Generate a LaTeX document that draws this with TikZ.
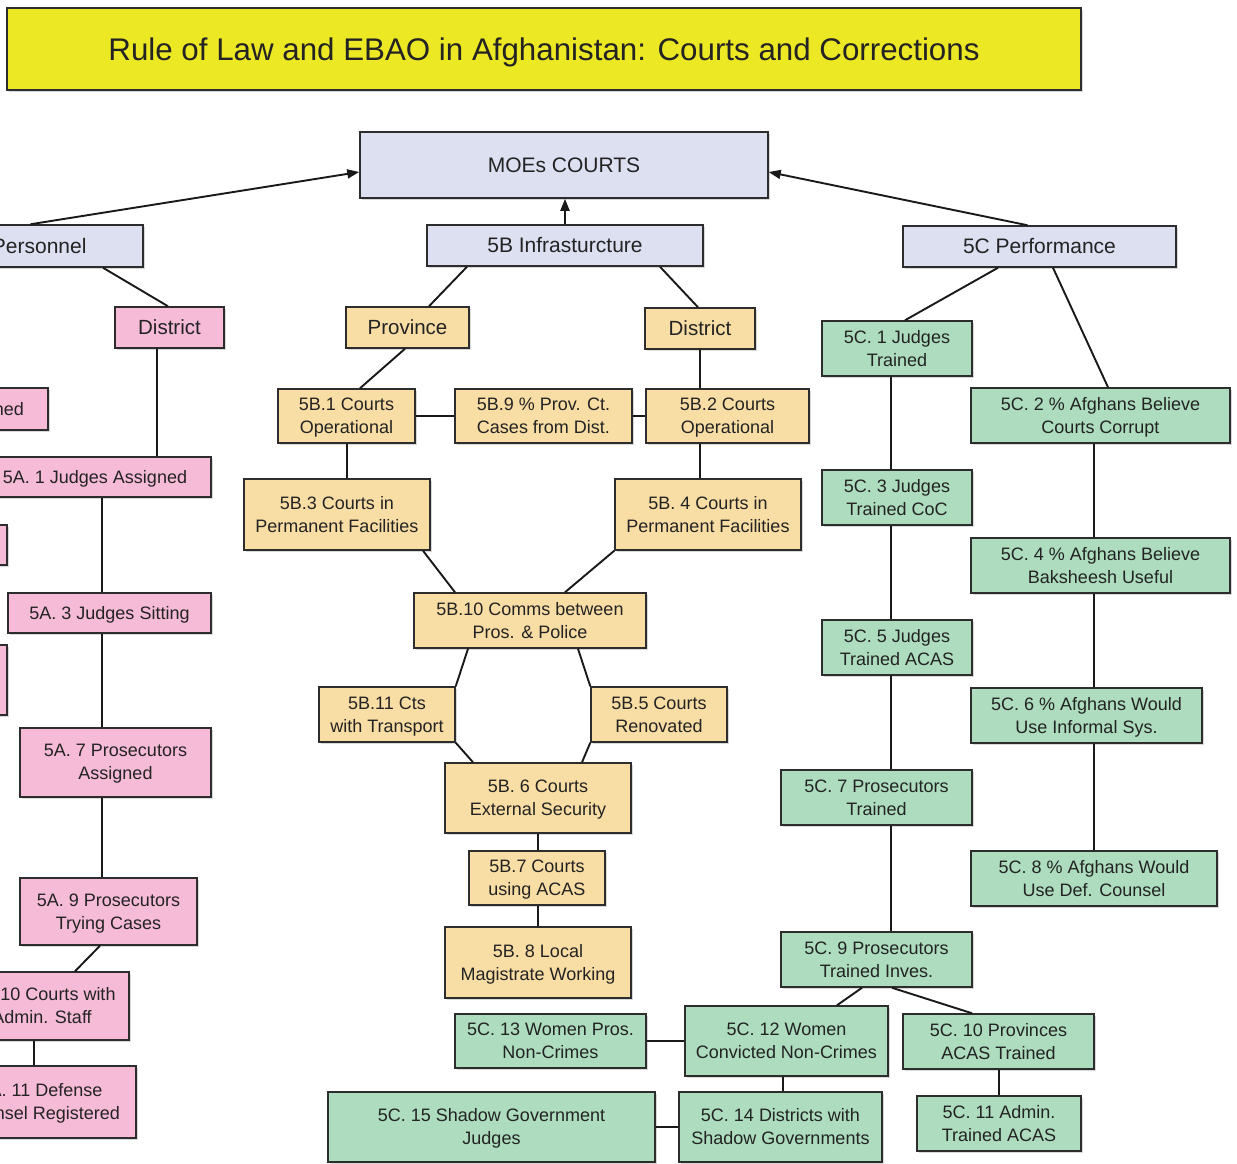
\documentclass[tikz,border=0pt]{standalone}
\usepackage{fontspec}
\setmainfont{Liberation Sans}
\usetikzlibrary{arrows.meta,shadows}
\definecolor{pkfill}{RGB}{246,187,214}
\definecolor{ylfill}{RGB}{248,221,164}
\definecolor{grfill}{RGB}{173,220,191}
\definecolor{lvfill}{RGB}{220,224,241}
\definecolor{ttfill}{RGB}{237,232,36}
\definecolor{txt}{RGB}{35,35,35}
\definecolor{edge}{RGB}{45,45,45}
\begin{document}
\begin{tikzpicture}[x=1pt,y=-1pt,
  box/.style={draw=edge, line width=1.5pt, inner sep=0pt, align=center, text=txt,
    text depth=0.5pt,
    font=\fontsize{18}{23}\selectfont,
    drop shadow={shadow xshift=1.8pt,shadow yshift=-1.8pt,opacity=0.3}},
  sz/.style 2 args={minimum width=#1pt, minimum height=#2pt},
  pk/.style={box, fill=pkfill},
  yl/.style={box, fill=ylfill},
  gr/.style={box, fill=grfill},
  lv/.style={box, fill=lvfill, font=\fontsize{21}{25}\selectfont},
  big/.style={font=\fontsize{20.5}{25}\selectfont},
  ttl/.style={box, fill=ttfill, font=\fontsize{31.3}{36}\selectfont},
  ln/.style={draw=black!90, line width=1.9pt},
  ar/.style={ln, -{Triangle[length=12pt,width=9pt]}}
]
\useasboundingbox (0,0) rectangle (1237,1163);
\fill[white] (0,0) rectangle (1237,1163);
\clip (0,0) rectangle (1237,1163);

% title
\node[ttl, sz={1074}{82}] (title) at (544,49) {Rule of Law and EBAO in Afghanistan: Courts and Corrections};

% top level
\node[lv, sz={408}{66}] (moe) at (564,165) {MOEs COURTS};
\node[lv, sz={239}{42}] (per) at (23.5,246) {5A Personnel};
\node[lv, sz={276}{41}] (infra) at (565,245.5) {5B Infrasturcture};
\node[lv, sz={273}{41}] (perf) at (1039.5,246.5) {5C Performance};

% 5A column (pink)
\node[pk, big, sz={109}{41}] (dP) at (169.5,327.5) {District};
\node[pk, sz={198}{42}, text width=150pt, inner xsep=24pt, align=right] (pned) at (-51,409) {ned};
\node[pk, sz={232}{40}] (a1) at (95,477) {5A. 1 Judges Assigned};
\node[pk, sz={107}{40}] (pb2) at (-46.5,545) {};
\node[pk, sz={203}{40}] (a3) at (109.5,613) {5A. 3 Judges Sitting};
\node[pk, sz={107}{70}] (pb3) at (-46.5,680) {};
\node[pk, sz={191}{69}] (a7) at (115.5,762.5) {5A. 7 Prosecutors\\Assigned};
\node[pk, sz={177}{67}] (a9) at (108.5,911.5) {5A. 9 Prosecutors\\Trying Cases};
\node[pk, sz={174}{68}] (a10) at (42,1006) {5A. 10 Courts with\\Admin. Staff};
\node[pk, sz={190}{72}] (a11) at (41,1102) {5A. 11 Defense\\Counsel Registered};

% 5B column (yellow)
\node[yl, big, sz={123}{41}] (prov) at (407.5,327.5) {Province};
\node[yl, big, sz={110}{41}] (dY) at (700,328.5) {District};
\node[yl, sz={137}{54}] (b1) at (346.5,416) {5B.1 Courts\\Operational};
\node[yl, sz={177}{54}] (b9) at (543.5,416) {5B.9 \% Prov. Ct.\\Cases from Dist.};
\node[yl, sz={163}{54}] (b2) at (727.5,416) {5B.2 Courts\\Operational};
\node[yl, sz={186}{71}] (b3) at (337,514.5) {5B.3 Courts in\\Permanent Facilities};
\node[yl, sz={186}{71}] (b4) at (708,514.5) {5B. 4 Courts in\\Permanent Facilities};
\node[yl, sz={232}{55}] (b10) at (530,620.5) {5B.10 Comms between\\Pros. \& Police};
\node[yl, sz={136}{55}] (b11) at (387,714.5) {5B.11 Cts\\with Transport};
\node[yl, sz={136}{55}] (b5) at (659,714.5) {5B.5 Courts\\Renovated};
\node[yl, sz={186}{70}] (b6) at (538,798) {5B. 6 Courts\\External Security};
\node[yl, sz={136}{54}] (b7) at (537,878) {5B.7 Courts\\using ACAS};
\node[yl, sz={186}{71}] (b8) at (538,962.5) {5B. 8 Local\\Magistrate Working};

% 5C column (green)
\node[gr, sz={150}{55}] (c1) at (897,348.5) {5C. 1 Judges\\Trained};
\node[gr, sz={259}{55}] (c2) at (1100.5,415.5) {5C. 2 \% Afghans Believe\\Courts Corrupt};
\node[gr, sz={150}{55}] (c3) at (897,497.5) {5C. 3 Judges\\Trained CoC};
\node[gr, sz={259}{55}] (c4) at (1100.5,565.5) {5C. 4 \% Afghans Believe\\Baksheesh Useful};
\node[gr, sz={150}{55}] (c5) at (897,647.5) {5C. 5 Judges\\Trained ACAS};
\node[gr, sz={231}{55}] (c6) at (1086.5,715.5) {5C. 6 \% Afghans Would\\Use Informal Sys.};
\node[gr, sz={191}{55}] (c7) at (876.5,797.5) {5C. 7 Prosecutors\\Trained};
\node[gr, sz={246}{55}] (c8) at (1094,878.5) {5C. 8 \% Afghans Would\\Use Def. Counsel};
\node[gr, sz={191}{55}] (c9) at (876.5,959.5) {5C. 9 Prosecutors\\Trained Inves.};
\node[gr, sz={191}{55}] (c10) at (998.5,1041.5) {5C. 10 Provinces\\ACAS Trained};
\node[gr, sz={164}{55}] (c11) at (999,1123.5) {5C. 11 Admin.\\Trained ACAS};
\node[gr, sz={203}{70}] (c12) at (786.5,1041) {5C. 12 Women\\Convicted Non-Crimes};
\node[gr, sz={191}{54}] (c13) at (550.5,1041) {5C. 13 Women Pros.\\Non-Crimes};
\node[gr, sz={203}{70}] (c14) at (780.5,1127) {5C. 14 Districts with\\Shadow Governments};
\node[gr, sz={327}{70}] (c15) at (491.5,1127) {5C. 15 Shadow Government\\Judges};

% arrows to MOEs
\draw[ar] ([xshift=7pt]per.north) -- ([yshift=-7pt]moe.west);
\draw[ar] ([xshift=-12pt]perf.north) -- ([yshift=-7pt]moe.east);
\draw[ar] (infra.north) -- (infra.north |- moe.south);

% 5A connectors
\draw[ln] ([xshift=79.5pt]per.south) -- ([xshift=-1.5pt]dP.north);
\draw[ln] ([xshift=-12.5pt]dP.south) -- ([xshift=-12.5pt]dP.south |- a1.north);
\draw[ln] ([xshift=7pt]a1.south) -- ([xshift=7pt]a1.south |- a3.north);
\draw[ln] ([xshift=-7.5pt]a3.south) -- ([xshift=-7.5pt]a3.south |- a7.north);
\draw[ln] ([xshift=-13.5pt]a7.south) -- ([xshift=-13.5pt]a7.south |- a9.north);
\draw[ln] ([xshift=-8.5pt]a9.south) -- ([xshift=33pt]a10.north);
\draw[ln] ([xshift=-8pt]a10.south) -- ([xshift=-8pt]a10.south |- a11.north);

% 5B connectors
\draw[ln] ([xshift=-98pt]infra.south) -- ([xshift=21.5pt]prov.north);
\draw[ln] ([xshift=95pt]infra.south) -- ([xshift=-2pt]dY.north);
\draw[ln] ([xshift=-2.5pt]prov.south) -- ([xshift=13.5pt]b1.north);
\draw[ln] (dY.south) -- (dY.south |- b2.north);
\draw[ln] (b1.east) -- (b9.west);
\draw[ln] (b9.east) -- (b2.west);
\draw[ln] ([xshift=0.5pt]b1.south) -- ([xshift=0.5pt]b1.south |- b3.north);
\draw[ln] ([xshift=-27.5pt]b2.south) -- ([xshift=-27.5pt]b2.south |- b4.north);
\draw[ln] ([xshift=86pt]b3.south) -- ([xshift=-75pt]b10.north);
\draw[ln] (b4.south west) -- ([xshift=35pt]b10.north);
\draw[ln] ([xshift=-62pt]b10.south) -- (b11.north east);
\draw[ln] (b11.south east) -- ([xshift=-65pt]b6.north);
\draw[ln] ([xshift=48pt]b10.south) -- (b5.north west);
\draw[ln] (b5.south west) -- ([xshift=44pt]b6.north);
\draw[ln] (b6.south) -- (b6.south |- b7.north);
\draw[ln] ([xshift=1pt]b7.south) -- ([xshift=1pt]b7.south |- b8.north);

% 5C connectors
\draw[ln] ([xshift=-41.5pt]perf.south) -- ([xshift=8pt]c1.north);
\draw[ln] ([xshift=13.5pt]perf.south) -- ([xshift=7.5pt]c2.north);
\draw[ln] ([xshift=-6pt]c1.south) -- ([xshift=-6pt]c1.south |- c3.north);
\draw[ln] ([xshift=-6pt]c3.south) -- ([xshift=-6pt]c3.south |- c5.north);
\draw[ln] ([xshift=-6pt]c5.south) -- ([xshift=-6pt]c5.south |- c7.north);
\draw[ln] ([xshift=14.5pt]c7.south) -- ([xshift=14.5pt]c7.south |- c9.north);
\draw[ln] ([xshift=-6.5pt]c2.south) -- ([xshift=-6.5pt]c2.south |- c4.north);
\draw[ln] ([xshift=-6.5pt]c4.south) -- ([xshift=-6.5pt]c4.south |- c6.north);
\draw[ln] ([xshift=7.5pt]c6.south) -- ([xshift=7.5pt]c6.south |- c8.north);
\draw[ln] ([xshift=-14.5pt]c9.south) -- ([xshift=50.5pt]c12.north);
\draw[ln] ([xshift=15.5pt]c9.south) -- ([xshift=-26.5pt]c10.north);
\draw[ln] ([xshift=0.5pt]c10.south) -- ([xshift=0.5pt]c10.south |- c11.north);
\draw[ln] (c13.east) -- (c12.west);
\draw[ln] ([xshift=-3.5pt]c12.south) -- ([xshift=-3.5pt]c12.south |- c14.north);
\draw[ln] (c15.east) -- (c14.west);
\end{tikzpicture}
\end{document}
